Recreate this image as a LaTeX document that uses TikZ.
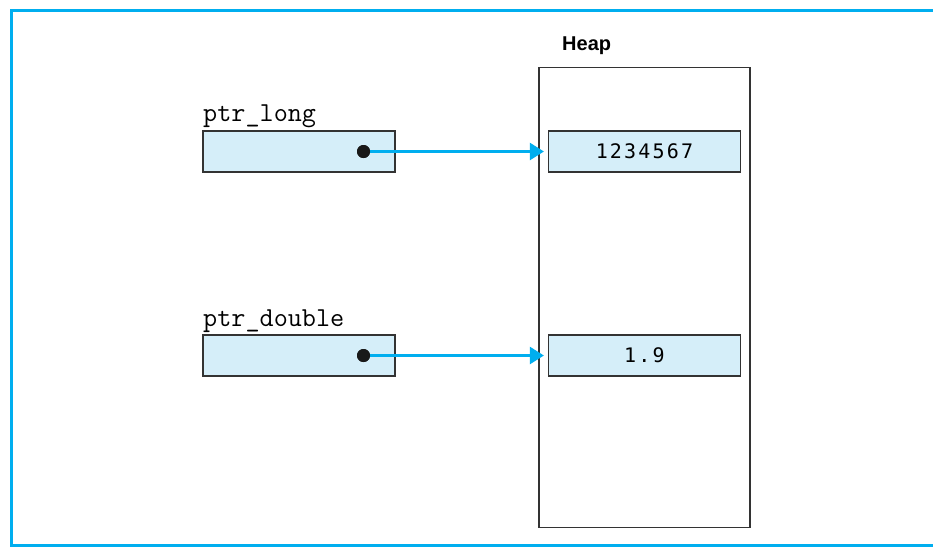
\documentclass[tikz,border=0pt]{standalone}
\usepackage{fontspec}
\setmainfont{Liberation Sans}
\newfontfamily\valmono[LetterSpace=11]{DejaVu Sans Mono}
\usetikzlibrary{arrows.meta}
\definecolor{framecyan}{HTML}{00AEEF}
\definecolor{cellfill}{HTML}{D5EEF9}
\definecolor{edgegray}{HTML}{333333}
\tikzset{
  cell/.style={draw=edgegray, line width=1.2pt, fill=cellfill, minimum width=192pt, minimum height=41pt, inner sep=0pt},
  heapbox/.style={draw=edgegray, line width=1.2pt, minimum width=211pt, minimum height=460pt, inner sep=0pt},
  varlabel/.style={anchor=base west, inner sep=0pt, font=\ttfamily\fontsize{27.4}{30}\selectfont},
  valtext/.style={font=\valmono\fontsize{20}{24}\selectfont},
  dotnode/.style={circle, fill=black!90, minimum size=13pt, inner sep=0pt},
  ptrarrow/.style={draw=framecyan, line width=2.3pt, -{Triangle[length=14pt,width=17pt]}, shorten >=4pt}
}
\begin{document}
\begin{tikzpicture}[x=1pt,y=-1pt]
\useasboundingbox (0,0) rectangle (933,547);
\begin{scope}
\clip (0,0) rectangle (933,547);
\draw[framecyan, line width=2.7pt] (950,10.3) -- (11.3,10.3) -- (11.3,545.8) -- (950,545.8);
\end{scope}
\node[heapbox] (heap) at (644.5,297.5) {};
\node[anchor=base west, inner sep=0pt, font=\bfseries\fontsize{20}{24}\selectfont] (heaplabel) at (562,50) {Heap};
\node[varlabel] (lablong) at (203,121.5) {ptr\_long};
\node[varlabel] (labdouble) at (203,326.5) {ptr\_double};
\node[cell] (plong) at (299,151.5) {};
\node[cell] (pdouble) at (299,355.5) {};
\node[cell, valtext] (vlong) at (644.5,151.5) {1234567};
\node[cell, valtext] (vdouble) at (644.5,355.5) {1.9};
\node[dotnode] (dlong) at (363.5,151.5) {};
\node[dotnode] (ddouble) at (363.5,355.5) {};
\draw[ptrarrow] (dlong.center) -- (vlong.west);
\draw[ptrarrow] (ddouble.center) -- (vdouble.west);
\node[dotnode] at (dlong.center) {};
\node[dotnode] at (ddouble.center) {};
\end{tikzpicture}
\end{document}
